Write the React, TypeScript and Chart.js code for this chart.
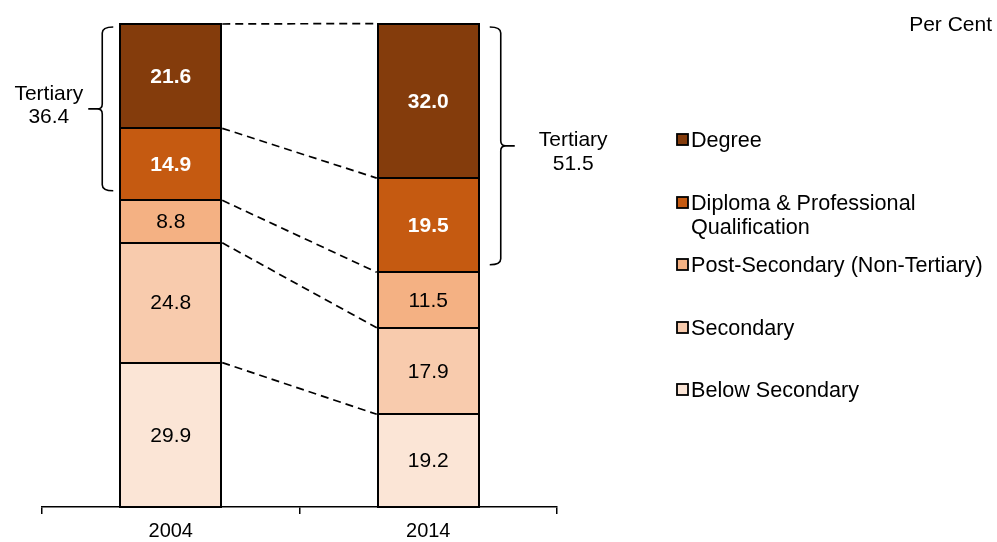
import React, { useEffect, useRef } from "react";
import { Chart, registerables } from "chart.js";

Chart.register(...registerables);

// ---- data ----
const years = ["2004", "2014"];
const belowSecondary = [29.9, 19.2];
const secondary = [24.8, 17.9];
const postSecondary = [8.8, 11.5];
const diploma = [14.9, 19.5];
const degree = [21.6, 32.0];
const tertiaryTotals = [36.4, 51.5];
const seriesLabels = [
  "Below Secondary",
  "Secondary",
  "Post-Secondary (Non-Tertiary)",
  "Diploma & Professional Qualification",
  "Degree",
];
const unitLabel = "Per Cent";
const tertiaryLabel = "Tertiary";

// ---- styles ----
const colors = ["#FBE5D6", "#F8CBAD", "#F4B183", "#C55A11", "#843C0C"];
const labelColors = ["#000", "#000", "#000", "#fff", "#fff"];
const labelBold = [false, false, false, true, true];
const FONT = "'Liberation Sans', Arial, sans-serif";
const legendYs = [140, 203, 265, 328, 390]; // top-to-bottom entries

function wrapText(ctx: CanvasRenderingContext2D, text: string, maxW: number): string[] {
  const words = text.split(" ");
  const lines: string[] = [];
  let cur = "";
  for (const w of words) {
    const t = cur ? cur + " " + w : w;
    if (ctx.measureText(t).width > maxW && cur) {
      lines.push(cur);
      cur = w;
    } else cur = t;
  }
  if (cur) lines.push(cur);
  return lines;
}

const overlayPlugin = {
  id: "overlay",
  afterDatasetsDraw(chart: any) {
    const ctx: CanvasRenderingContext2D = chart.ctx;
    const yScale = chart.scales.y;
    const nDs = chart.data.datasets.length;
    ctx.save();

    // bar outlines
    ctx.strokeStyle = "#000";
    ctx.lineWidth = 2;
    for (let i = 0; i < nDs; i++) {
      const meta = chart.getDatasetMeta(i);
      meta.data.forEach((el: any) => {
        const l = Math.round(el.x - el.width / 2);
        const r = Math.round(el.x + el.width / 2);
        const t = Math.round(el.y);
        const b = Math.round(el.base);
        ctx.strokeRect(l, t, r - l, b - t);
      });
    }

    // dashed connectors
    ctx.lineWidth = 1.7;
    ctx.setLineDash([8, 5]);
    for (let i = 0; i < nDs; i++) {
      const meta = chart.getDatasetMeta(i);
      const a = meta.data[0];
      const b = meta.data[1];
      ctx.beginPath();
      ctx.moveTo(a.x + a.width / 2 + 1, a.y);
      ctx.lineTo(b.x - b.width / 2 - 1, b.y);
      ctx.stroke();
    }
    ctx.setLineDash([]);

    // value labels
    ctx.textAlign = "center";
    ctx.textBaseline = "middle";
    for (let i = 0; i < nDs; i++) {
      const meta = chart.getDatasetMeta(i);
      const ds = chart.data.datasets[i];
      meta.data.forEach((el: any, j: number) => {
        ctx.font = (labelBold[i] ? "bold " : "") + "21px " + FONT;
        ctx.fillStyle = labelColors[i];
        ctx.fillText(Number(ds.data[j]).toFixed(1), el.x, (el.y + el.base) / 2 + 1);
      });
    }

    // brackets
    const yTop = yScale.getPixelForValue(100) + 3;
    const m0 = chart.getDatasetMeta(0);
    ctx.lineWidth = 1.6;
    ctx.strokeStyle = "#000";
    ctx.font = "21px " + FONT;
    ctx.fillStyle = "#000";
    // left bracket (2004)
    {
      const el = m0.data[0];
      const x = el.x - el.width / 2 - 18;
      const yBot = yScale.getPixelForValue(100 - tertiaryTotals[0]) - 9;
      const mid = (yTop + yBot) / 2;
      ctx.beginPath();
      ctx.moveTo(x + 11, yTop);
      ctx.quadraticCurveTo(x, yTop, x, yTop + 6);
      ctx.lineTo(x, mid - 5);
      ctx.quadraticCurveTo(x, mid, x - 5, mid);
      ctx.lineTo(x - 14, mid);
      ctx.moveTo(x - 5, mid);
      ctx.quadraticCurveTo(x, mid, x, mid + 5);
      ctx.lineTo(x, yBot - 6);
      ctx.quadraticCurveTo(x, yBot, x + 11, yBot);
      ctx.stroke();
      const tip = x - 14;
      const w = ctx.measureText(tertiaryLabel).width;
      const cx = tip - 5 - w / 2;
      ctx.textAlign = "center";
      ctx.fillText(tertiaryLabel, cx, mid - 15);
      ctx.fillText(tertiaryTotals[0].toFixed(1), cx, mid + 8);
    }
    // right bracket (2014)
    {
      const el = m0.data[1];
      const x = el.x + el.width / 2 + 22;
      const yBot = yScale.getPixelForValue(100 - tertiaryTotals[1]) - 8;
      const mid = (yTop + yBot) / 2;
      ctx.beginPath();
      ctx.moveTo(x - 11, yTop);
      ctx.quadraticCurveTo(x, yTop, x, yTop + 6);
      ctx.lineTo(x, mid - 5);
      ctx.quadraticCurveTo(x, mid, x + 5, mid);
      ctx.lineTo(x + 14, mid);
      ctx.moveTo(x + 5, mid);
      ctx.quadraticCurveTo(x, mid, x, mid + 5);
      ctx.lineTo(x, yBot - 6);
      ctx.quadraticCurveTo(x, yBot, x - 11, yBot);
      ctx.stroke();
      const tip = x + 14;
      const w = ctx.measureText(tertiaryLabel).width;
      const cx = tip + 24 + w / 2;
      ctx.textAlign = "center";
      ctx.fillText(tertiaryLabel, cx, mid - 6);
      ctx.fillText(tertiaryTotals[1].toFixed(1), cx, mid + 18);
    }

    // legend
    ctx.textAlign = "left";
    ctx.textBaseline = "middle";
    ctx.font = "21.6px " + FONT;
    for (let k = 0; k < nDs; k++) {
      const i = nDs - 1 - k;
      const y = legendYs[k];
      ctx.fillStyle = colors[i];
      ctx.fillRect(677, y - 6, 11, 11);
      ctx.lineWidth = 1.8;
      ctx.strokeStyle = "#000";
      ctx.strokeRect(677, y - 6, 11, 11);
      ctx.fillStyle = "#000";
      const lines = wrapText(ctx, chart.data.datasets[i].label, 300);
      lines.forEach((ln, li) => ctx.fillText(ln, 691, y + 1 + li * 24));
    }

    // unit label
    ctx.textAlign = "right";
    ctx.font = "21px " + FONT;
    ctx.fillText(unitLabel, 992, 25);

    ctx.restore();
  },
};

export default function App() {
  const ref = useRef<HTMLCanvasElement | null>(null);
  useEffect(() => {
    if (!ref.current) return;
    const series = [belowSecondary, secondary, postSecondary, diploma, degree];
    const chart = new Chart(ref.current, {
      type: "bar",
      data: {
        labels: years,
        datasets: series.map((d, i) => ({
          label: seriesLabels[i],
          data: d,
          backgroundColor: colors[i],
          borderWidth: 0,
          barThickness: 101,
        })),
      },
      options: {
        animation: false,
        responsive: false,
        maintainAspectRatio: false,
        layout: { padding: { left: 42, right: 440, top: 24, bottom: 0 } },
        plugins: { legend: { display: false }, tooltip: { enabled: false } },
        scales: {
          x: {
            stacked: true,
            offset: true,
            afterFit: (s: any) => {
              s.height = 35;
            },
            grid: {
              display: true,
              offset: true,
              drawOnChartArea: false,
              drawTicks: true,
              tickLength: 7,
              color: "#000",
              lineWidth: 1.5,
            },
            border: { display: true, color: "#000", width: 1.5 },
            ticks: { color: "#000", font: { family: FONT, size: 20 }, padding: 5 },
          },
          y: { stacked: true, display: false, min: 0, max: 100 },
        },
      },
      plugins: [overlayPlugin],
    } as any);
    return () => chart.destroy();
  }, []);
  return (
    <div style={{ position: "fixed", left: 0, top: 0, width: 997, height: 542, background: "#fff" }}>
      <canvas ref={ref} width={997} height={542} style={{ width: 997, height: 542 }} />
    </div>
  );
}
